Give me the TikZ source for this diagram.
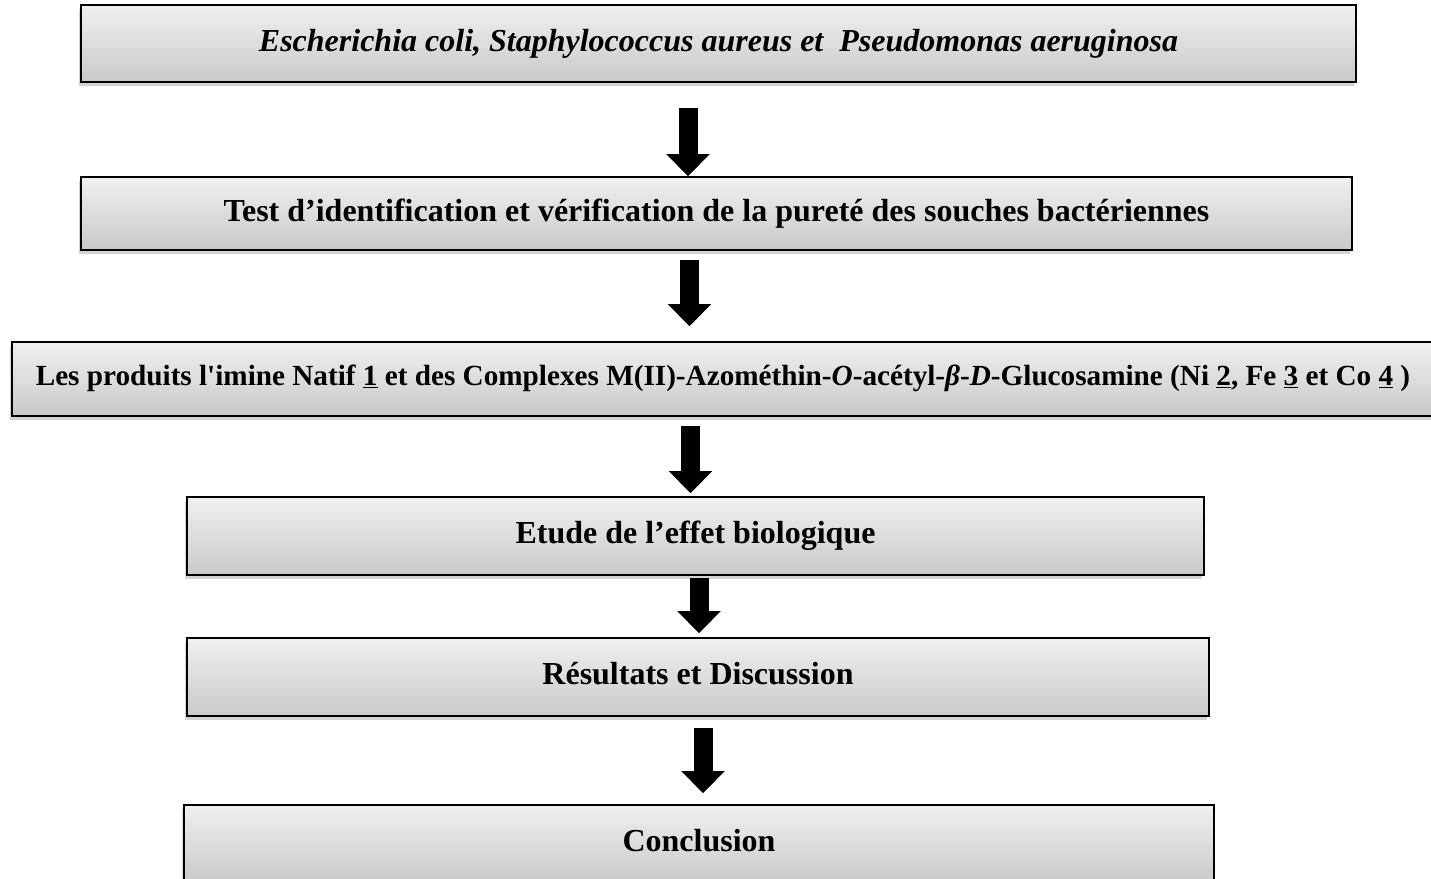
\documentclass[tikz,border=0pt]{standalone}
\usepackage{fontspec}
\setmainfont{Liberation Serif}[Ligatures=TeXOff]
\usetikzlibrary{shadows,arrows.meta}
\begin{document}
\begin{tikzpicture}[x=1pt,y=-1pt,
  box/.style={draw=black, line width=1.6pt, fill=gray!20,
    top color=gray!12, bottom color=gray!42, shading angle=0,
    drop shadow={shadow xshift=-2pt, shadow yshift=-4pt, opacity=0.35, fill=gray},
    inner sep=0pt, font=\fontsize{32}{38}\selectfont\bfseries},
  bigarrow/.style={line width=19pt, draw=black,
    -{Triangle[width=42pt,length=22pt]}},
]
\useasboundingbox (0,0) rectangle (1431,878);
\node[box, minimum width=1275pt, minimum height=77pt] (b1) at (718.5,43.5)
  {\itshape Escherichia coli, Staphylococcus aureus et\ \ Pseudomonas aeruginosa};
\node[box, minimum width=1271pt, minimum height=73pt] (b2) at (716.5,213.5)
  {\raisebox{7pt}{Test d’identification et vérification de la pureté des souches bactériennes}};
\node[box, minimum width=1422pt, minimum height=74pt, font=\fontsize{29.2}{34}\selectfont\bfseries] (b3) at (723,379)
  {\raisebox{7pt}{Les produits l'imine Natif \underline{1} et des Complexes M(II)-Azométhin-\textit{O}-acétyl-\textit{β}-\textit{D}-Glucosamine (Ni \underline{2}, Fe \underline{3} et Co \underline{4} )}};
\node[box, minimum width=1017pt, minimum height=78pt] (b4) at (695.5,536)
  {\raisebox{7pt}{Etude de l’effet biologique}};
\node[box, minimum width=1022pt, minimum height=78pt] (b5) at (698,677)
  {\raisebox{7pt}{Résultats et Discussion}};
\node[box, minimum width=1030pt, minimum height=78pt] (b6) at (699,844)
  {\raisebox{7pt}{Conclusion}};
\coordinate (a1) at (688,108);
\coordinate (a2) at (689.5,260);
\coordinate (a3) at (690.5,426);
\coordinate (a4) at (699,578);
\coordinate (a5) at (703,728);
\draw[bigarrow] (a1) -- (a1 |- b2.north);
\draw[bigarrow] (a2) -- ([yshift=15pt]a2 |- b3.north);
\draw[bigarrow] (a3) -- ([yshift=3pt]a3 |- b4.north);
\draw[bigarrow] (a4) -- ([yshift=4pt]a4 |- b5.north);
\draw[bigarrow] (a5) -- ([yshift=11pt]a5 |- b6.north);
\end{tikzpicture}
\end{document}
